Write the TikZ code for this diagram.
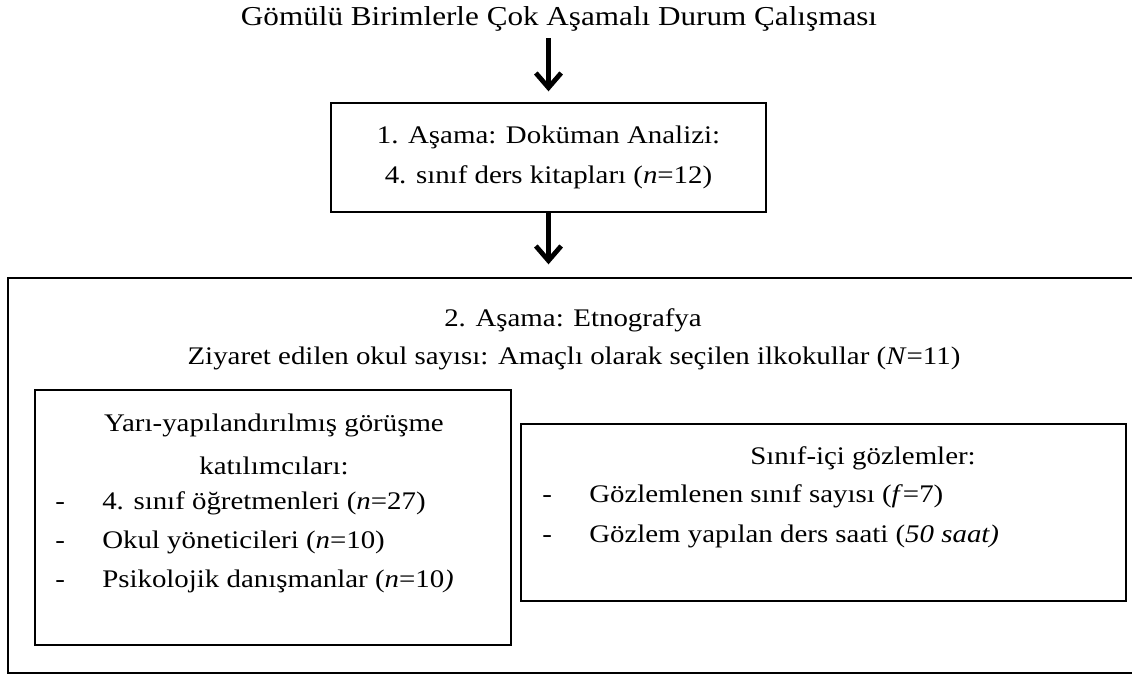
\documentclass[tikz,border=0pt]{standalone}
\usepackage{fontspec}
\setmainfont{Liberation Serif}[FakeStretch=1.14]
\usetikzlibrary{arrows.meta}
\tikzset{
  box/.style={draw, line width=1pt, rectangle, inner sep=0pt},
  txt/.style={inner sep=0pt, font=\fontsize{19}{30}\selectfont, align=center},
  item/.style={inner sep=0pt, anchor=mid west, font=\fontsize{19}{30}\selectfont},
  arr/.style={line width=3.6pt, -{Straight Barb[length=11pt,width=19pt,line width=3.6pt]}}
}
\newcommand{\dsh}{\makebox[35.25pt][l]{-}}
\begin{document}
\begin{tikzpicture}[x=0.75pt,y=-0.75pt]
\path[use as bounding box, clip] (0,0) rectangle (1132,674);
% title
\node[txt, font=\fontsize{20.5}{30}\selectfont, minimum height=38*0.75pt] (title) at (559,19) {Gömülü Birimlerle Çok Aşamalı Durum Çalışması};
% box 1
\node[box, minimum width=435*0.75pt, minimum height=109*0.75pt] (b1) at (548.5,157.5) {};
\node[txt] (b1t) at (548.5,157) {1. Aşama: Doküman Analizi:\\4. sınıf ders kitapları (\textit{n}=12)};
% outer
\node[box, minimum width=1132*0.75pt, minimum height=395*0.75pt] (outer) at (574,475.5) {};
\node[txt] (o1) at (573,320) {2. Aşama: Etnografya};
\node[txt] (o2) at (574,358) {Ziyaret edilen okul sayısı: Amaçlı olarak seçilen ilkokullar (\textit{N}=11)};
% left box
\node[box, minimum width=476*0.75pt, minimum height=255*0.75pt] (lb) at (273,517.5) {};
\node[txt] (l1) at (274,425) {Yarı-yapılandırılmış görüşme};
\node[txt] (l2) at (274,466) {katılımcıları:};
\node[item] (l3) at (55,506) {\dsh 4. sınıf öğretmenleri (\textit{n}=27)};
\node[item] (l4) at (55,545) {\dsh Okul yöneticileri (\textit{n}=10)};
\node[item] (l5) at (55,584) {\dsh Psikolojik danışmanlar (\textit{n}=10\textit{)}};
% right box
\node[box, minimum width=605*0.75pt, minimum height=177*0.75pt] (rb) at (823.5,512.5) {};
\node[txt] (r1) at (863,458) {Sınıf-içi gözlemler:};
\node[item] (r2) at (542,499) {\dsh Gözlemlenen sınıf sayısı (\textit{f}=7)};
\node[item] (r3) at (542,539) {\dsh Gözlem yapılan ders saati (\textit{50 saat)}};
% arrows
\draw[arr] (title.south -| b1.north) -- ([yshift=8.25pt]b1.north);
\draw[arr] (b1.south) -- ([yshift=9.75pt]b1.south |- outer.north);
\end{tikzpicture}
\end{document}
